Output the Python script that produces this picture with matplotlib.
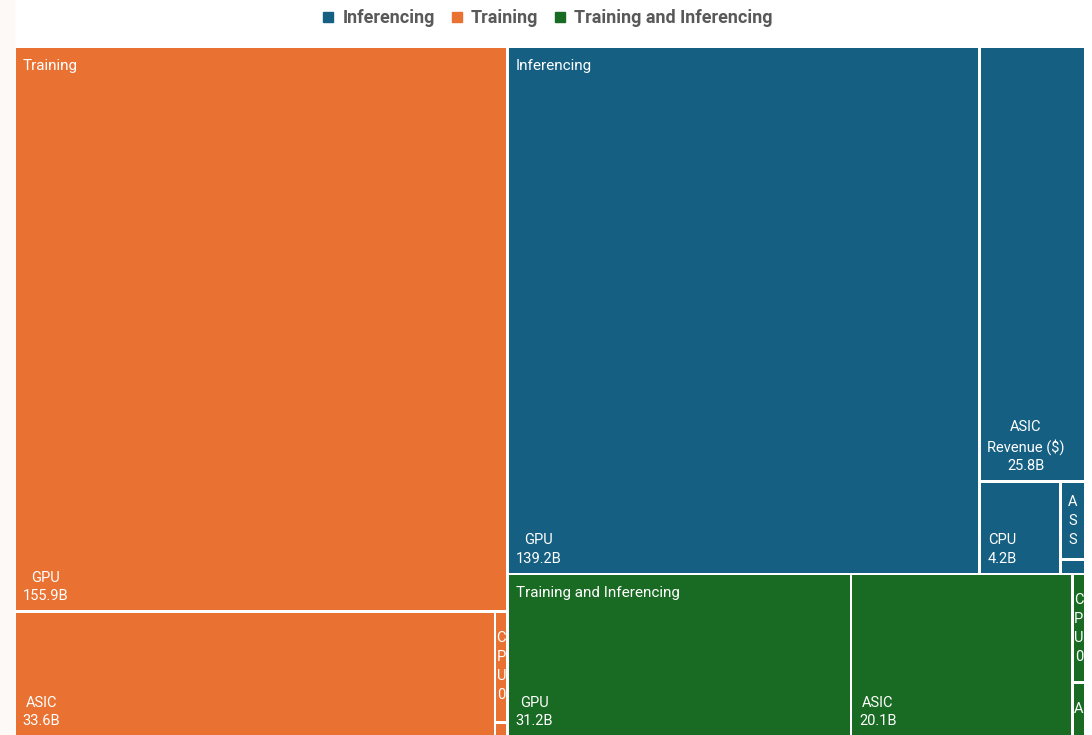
import matplotlib
matplotlib.use("Agg")
import matplotlib.pyplot as plt
from matplotlib.patches import Rectangle
from matplotlib.lines import Line2D

# ---------------- data ----------------
groups = ["Training", "Inferencing", "Training and Inferencing"]
legend_order = ["Inferencing", "Training", "Training and Inferencing"]
group_colors = {"Training": "#E97132", "Inferencing": "#156082",
                "Training and Inferencing": "#196B24"}

training_chips = ["GPU", "ASIC", "CPU", "ASSP"]
training_revenue = [155.9, 33.6, 0.8, 0.1]
inferencing_chips = ["GPU", "ASIC", "CPU", "ASSP", "FPGA"]
inferencing_revenue = [139.2, 25.8, 4.2, 1.1, 0.2]
both_chips = ["GPU", "ASIC", "CPU", "ASSP"]
both_revenue = [31.2, 20.1, 0.8, 0.4]
measure_name = "Revenue ($)"

group_data = {
    "Training": (training_chips, training_revenue),
    "Inferencing": (inferencing_chips, inferencing_revenue),
    "Training and Inferencing": (both_chips, both_revenue),
}

# ---------------- styling ----------------
W_PX, H_PX = 1092, 735
LABEL_FONT = ["Roboto", "DejaVu Sans"]
HEAD_FONT = ["Liberation Sans Narrow", "Roboto", "DejaVu Sans"]
PAD = 1.4


def worst(row, w):
    s = sum(row)
    return max(max(w * w * r / (s * s), (s * s) / (w * w * r)) for r in row)


def squarify(areas, x, y, dx, dy):
    rects = []
    vals = list(areas)
    while vals:
        w = min(dx, dy)
        row = [vals[0]]
        i = 1
        while i < len(vals) and worst(row + [vals[i]], w) <= worst(row, w):
            row.append(vals[i])
            i += 1
        vals = vals[i:]
        s = sum(row)
        if dx >= dy:
            cw = s / dy
            yy = y
            for r in row:
                h = r / cw
                rects.append((x, yy, cw, h))
                yy += h
            x += cw
            dx -= cw
        else:
            rh = s / dx
            xx = x
            for r in row:
                ww = r / rh
                rects.append((xx, y, ww, rh))
                xx += ww
            y += rh
            dy -= rh
    return rects


def layout(values, rect):
    x, y, dx, dy = rect
    total = sum(values)
    order = sorted(range(len(values)), key=lambda i: -values[i])
    areas = [values[i] / total * dx * dy for i in order]
    rs = squarify(areas, x, y, dx, dy)
    out = [None] * len(values)
    for k, i in enumerate(order):
        out[i] = rs[k]
    return out


fig = plt.figure(figsize=(W_PX / 100, H_PX / 100), dpi=100)
fig.add_artist(Rectangle((0, 0), 14 / W_PX, 1, transform=fig.transFigure,
                         color="#FCF9F7", zorder=0))
ax = fig.add_axes([0, 0, 1, 1])
ax.set_xlim(0, W_PX)
ax.set_ylim(H_PX, 0)
ax.axis("off")

area = (14.6, 46.6, 1085.4 - 14.6, 736.4 - 46.6)
group_totals = [sum(group_data[g][1]) for g in groups]
group_rects = layout(group_totals, area)

for g, grect in zip(groups, group_rects):
    chips, revs = group_data[g]
    color = group_colors[g]
    leaf_rects = layout(revs, grect)
    for chip, v, (x, y, w, h) in zip(chips, revs, leaf_rects):
        x0, y0, ww, hh = x + PAD, y + PAD, w - 2 * PAD, h - 2 * PAD
        ax.add_patch(Rectangle((x0, y0), ww, hh, facecolor=color,
                               edgecolor="none"))
        val = f"{v:.1f}B"
        if ww >= 40:
            lines = [chip]
            if ww < 120 and hh > 120:
                lines.append(measure_name)
            lines.append(val)
            ax.text(x0 + 6.5, y0 + hh - 7, "\n".join(lines), ha="left",
                    va="bottom", multialignment="center", linespacing=1.4,
                    color="white", fontsize=10.5, family=LABEL_FONT)
        else:
            chars = [c for c in (chip + val) if not c.isspace()]
            n = int((hh - 17) // 19)
            chars = chars[:max(n, 0)]
            cx = x0 + ww / 2
            cy = y0 + hh / 2
            for k, c in enumerate(chars):
                ax.text(cx, cy + (k - (len(chars) - 1) / 2) * 19, c,
                        ha="center", va="center", color="white",
                        fontsize=10.5, family=LABEL_FONT)
    gx, gy = grect[0] + PAD, grect[1] + PAD
    ax.text(gx + 6.5, gy + 10.5, g, ha="left", va="top", color="white",
            fontsize=11, family=HEAD_FONT)

handles = [Line2D([], [], marker="s", linestyle="none", markersize=7,
                  color=group_colors[g]) for g in legend_order]
fig.legend(handles, legend_order, loc="upper center",
           bbox_to_anchor=(0.5, 1.010), ncol=3, frameon=False,
           prop=dict(family=HEAD_FONT, weight="bold", size=13),
           labelcolor="#595959", handletextpad=0.3, columnspacing=0.7,
           handlelength=1.0)

fig.savefig("out.png", dpi=100)
